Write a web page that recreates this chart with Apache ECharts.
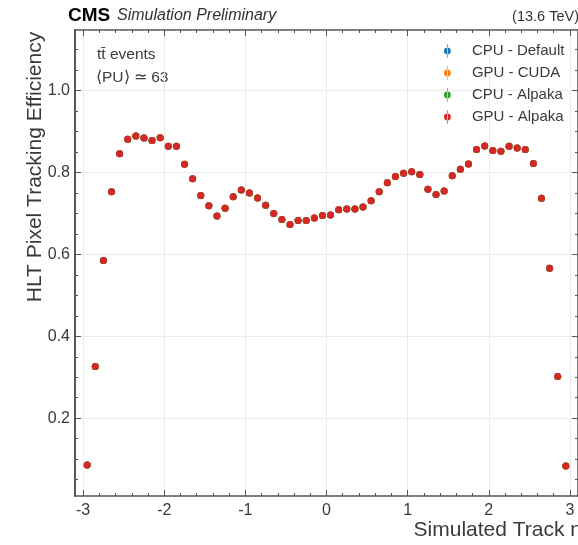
<!DOCTYPE html>
<html>
<head>
<meta charset="utf-8">
<script src="https://cdn.jsdelivr.net/npm/echarts@6/dist/echarts.min.js"></script>
<style>
  html, body { margin: 0; padding: 0; background: #fff; }
  #chart { width: 578px; height: 545px; }
</style>
</head>
<body>
<div id="chart"></div>
<script>
// Bin centres in simulated track pseudorapidity (bin width 0.1)
const etaBins = [
  -2.95, -2.85, -2.75, -2.65, -2.55, -2.45, -2.35, -2.25, -2.15, -2.05,
  -1.95, -1.85, -1.75, -1.65, -1.55, -1.45, -1.35, -1.25, -1.15, -1.05,
  -0.95, -0.85, -0.75, -0.65, -0.55, -0.45, -0.35, -0.25, -0.15, -0.05,
   0.05,  0.15,  0.25,  0.35,  0.45,  0.55,  0.65,  0.75,  0.85,  0.95,
   1.05,  1.15,  1.25,  1.35,  1.45,  1.55,  1.65,  1.75,  1.85,  1.95,
   2.05,  2.15,  2.25,  2.35,  2.45,  2.55,  2.65,  2.75,  2.85,  2.95
];

// HLT pixel tracking efficiency per bin (the four backends agree within marker size)
const efficiency = [
  0.086, 0.326, 0.585, 0.753, 0.846, 0.881, 0.889, 0.884, 0.878, 0.885,
  0.864, 0.864, 0.820, 0.785, 0.744, 0.719, 0.694, 0.713, 0.741, 0.757,
  0.750, 0.738, 0.720, 0.700, 0.685, 0.673, 0.683, 0.683, 0.689, 0.695,
  0.696, 0.709, 0.711, 0.711, 0.716, 0.731, 0.753, 0.775, 0.790, 0.798,
  0.802, 0.795, 0.759, 0.746, 0.755, 0.792, 0.808, 0.821, 0.856, 0.865,
  0.854, 0.852, 0.864, 0.860, 0.856, 0.822, 0.737, 0.566, 0.302, 0.083
];

const seriesNames = ['CPU - Default', 'GPU - CUDA', 'CPU - Alpaka', 'GPU - Alpaka'];
const seriesColors = ['#1f77b4', '#ff7f0e', '#2ca02c', '#d62728'];

const xMajorTicks = [-3, -2, -1, 0, 1, 2, 3];
const xMinorTicks = [-3, -2.8, -2.6, -2.4, -2.2, -2, -1.8, -1.6, -1.4, -1.2, -1,
  -0.8, -0.6, -0.4, -0.2, 0, 0.2, 0.4, 0.6, 0.8, 1, 1.2, 1.4, 1.6, 1.8, 2,
  2.2, 2.4, 2.6, 2.8, 3];
const yMajorTicks = [0.2, 0.4, 0.6, 0.8, 1.0];
const yMinorTicks = [0.05, 0.1, 0.15, 0.2, 0.25, 0.3, 0.35, 0.4, 0.45, 0.5, 0.55,
  0.6, 0.65, 0.7, 0.75, 0.8, 0.85, 0.9, 0.95, 1.0, 1.05, 1.1];

const FONT = '"Liberation Sans", Arial, Helvetica, sans-serif';
const AXIS_COLOR = '#555';
const TEXT_COLOR = '#3a3a3a';
const X_RANGE = [-3.1, 3.1];
const Y_RANGE = [0.01, 1.148];

const points = etaBins.map((x, i) => [x, efficiency[i]]);

function xAxisDef(position, ticks, tickLen, opts) {
  return Object.assign({
    type: 'value', position: position, min: X_RANGE[0], max: X_RANGE[1],
    axisLine: { show: false, onZero: false },
    axisTick: { show: true, inside: true, length: tickLen, customValues: ticks,
      lineStyle: { color: AXIS_COLOR, width: 1 } },
    axisLabel: { show: false },
    splitLine: { show: false }
  }, opts || {});
}
function yAxisDef(position, ticks, tickLen, opts) {
  return Object.assign({
    type: 'value', position: position, min: Y_RANGE[0], max: Y_RANGE[1],
    axisLine: { show: false, onZero: false },
    axisTick: { show: true, inside: true, length: tickLen, customValues: ticks,
      lineStyle: { color: AXIS_COLOR, width: 1 } },
    axisLabel: { show: false },
    splitLine: { show: false }
  }, opts || {});
}

const legendIcon = 'path://M4.7,0h0.6v14h-0.6z M1.6,7a3.4,3.4 0 1,0 6.8,0a3.4,3.4 0 1,0 -6.8,0z';

const option = {
  animation: false,
  backgroundColor: '#ffffff',
  grid: { left: 75, top: 30, width: 505, height: 466, containLabel: false },
  xAxis: [
    xAxisDef('bottom', xMajorTicks, 6, {
      axisLine: { show: true, onZero: false, lineStyle: { color: AXIS_COLOR, width: 1.6 } },
      axisLabel: { show: true, customValues: xMajorTicks, margin: 7,
        fontFamily: FONT, fontSize: 16, color: TEXT_COLOR,
        formatter: v => String(Math.round(v)) },
      splitLine: { show: true, lineStyle: { color: '#ebebeb', width: 1 } }
    }),
    xAxisDef('bottom', xMinorTicks, 3),
    xAxisDef('top', xMajorTicks, 6, {
      axisLine: { show: true, onZero: false, lineStyle: { color: AXIS_COLOR, width: 1.6 } }
    }),
    xAxisDef('top', xMinorTicks, 3)
  ],
  yAxis: [
    yAxisDef('left', yMajorTicks, 6, {
      axisLine: { show: true, onZero: false, lineStyle: { color: AXIS_COLOR, width: 2 } },
      axisLabel: { show: true, customValues: yMajorTicks, margin: 5,
        fontFamily: FONT, fontSize: 16, color: TEXT_COLOR,
        formatter: v => v.toFixed(1) },
      splitLine: { show: true, lineStyle: { color: '#ebebeb', width: 1 } }
    }),
    yAxisDef('left', yMinorTicks, 3),
    yAxisDef('right', yMajorTicks, 6, {
      axisLine: { show: true, onZero: false, lineStyle: { color: AXIS_COLOR, width: 1.6 } }
    }),
    yAxisDef('right', yMinorTicks, 3)
  ],
  legend: {
    orient: 'vertical',
    left: 444, top: 43.5,
    padding: 0,
    itemWidth: 7, itemHeight: 14, itemGap: 7,
    icon: legendIcon,
    textStyle: { fontFamily: FONT, fontSize: 15, lineHeight: 15, color: TEXT_COLOR, padding: [0, 0, 0, 16] },
    data: seriesNames
  },
  series: seriesNames.map((name, i) => ({
    name: name,
    type: 'scatter',
    xAxisIndex: 0,
    yAxisIndex: 0,
    data: points,
    symbol: 'circle',
    symbolSize: 7,
    itemStyle: { color: seriesColors[i], opacity: 1 },
    z: 2 + i
  })),
  graphic: [
    { type: 'text', left: 68, top: 6,
      style: { text: 'CMS', fontFamily: FONT, fontWeight: 'bold', fontSize: 19, fill: '#000' } },
    { type: 'text', left: 117, top: 8,
      style: { text: 'Simulation Preliminary', fontFamily: FONT, fontStyle: 'italic', fontSize: 16, fill: '#333' } },
    { type: 'text', right: -1, top: 9,
      style: { text: '(13.6 TeV)', fontFamily: FONT, fontSize: 14.5, fill: '#333', textAlign: 'right' } },
    { type: 'text', left: 97, top: 47,
      style: { text: 't\u0074\u0304 events', fontFamily: FONT, fontSize: 15.5, fill: TEXT_COLOR } },
    { type: 'text', left: 96, top: 70,
      style: { text: '\u27E8PU\u27E9 \u2243 63', fontFamily: FONT, fontSize: 15.5, fill: TEXT_COLOR } },
    { type: 'text', x: 35, y: 167, rotation: Math.PI / 2,
      style: { text: 'HLT Pixel Tracking Efficiency', fontFamily: FONT, fontSize: 21, fill: TEXT_COLOR,
        align: 'center', verticalAlign: 'middle' } },
    { type: 'text', x: 582, y: 530,
      style: { text: 'Simulated Track \u03B7', fontFamily: FONT, fontSize: 21, fill: TEXT_COLOR,
        align: 'right', verticalAlign: 'middle' } }
  ]
};

const chart = echarts.init(document.getElementById('chart'), null, { renderer: 'canvas' });
chart.setOption(option);
</script>
</body>
</html>
